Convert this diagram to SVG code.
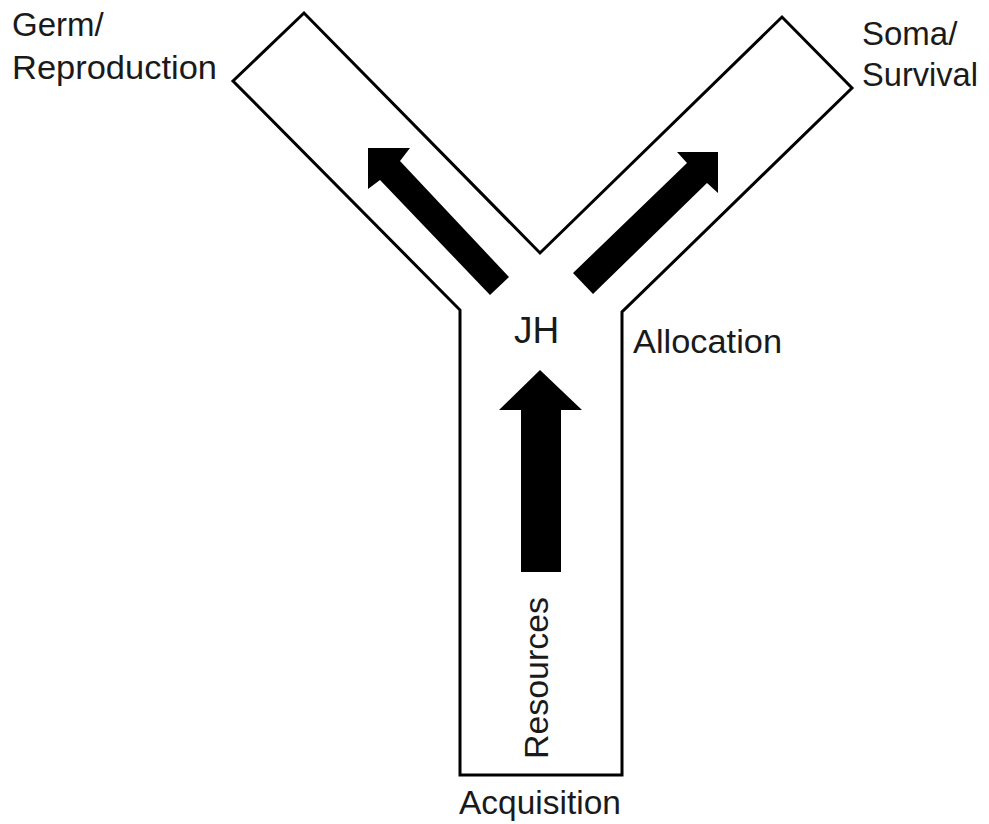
<svg xmlns="http://www.w3.org/2000/svg" width="989" height="824" viewBox="0 0 989 824">
<style>
.outline{fill:#fff;stroke:#000;stroke-width:3;stroke-linejoin:miter}
.arrow{fill:#000;stroke:none}
.lbl{font-family:"Liberation Sans",Arial,sans-serif;font-size:33px;fill:#1a1a1a}
</style>
<rect width="989" height="824" fill="#fff"/>
<g id="y-shape">
<polygon class="outline" points="460,775 460,310 233,81 304,13 540,253 782,17 852,88 622,312 622,775"/>
</g>
<g id="connectors">
<polygon class="arrow" points="368,148 410,148 400,161 509,277 490,295 380,180 368,189"/>
<polygon class="arrow" points="718,152 718,193 707,183 593,294 573,273 687,163 677,152"/>
<polygon class="arrow" points="540,370 582,410 561,410 561,572 521,572 521,410 499,410"/>
</g>
<g id="germ">
<text class="lbl" x="12" y="36">Germ/</text>
<text class="lbl" x="12" y="79" textLength="205" lengthAdjust="spacingAndGlyphs">Reproduction</text>
</g>
<g id="soma">
<text class="lbl" x="862" y="45">Soma/</text>
<text class="lbl" x="862" y="86" textLength="116" lengthAdjust="spacingAndGlyphs">Survival</text>
</g>
<g id="jh">
<text class="lbl" x="514" y="343" style="font-size:37px">JH</text>
</g>
<g id="allocation">
<text class="lbl" x="633" y="353" textLength="149" lengthAdjust="spacingAndGlyphs">Allocation</text>
</g>
<g id="resources">
<text class="lbl" transform="translate(548,759) rotate(-90)" textLength="162" lengthAdjust="spacingAndGlyphs">Resources</text>
</g>
<g id="acquisition">
<text class="lbl" x="459" y="814" textLength="162" lengthAdjust="spacingAndGlyphs">Acquisition</text>
</g>
</svg>
